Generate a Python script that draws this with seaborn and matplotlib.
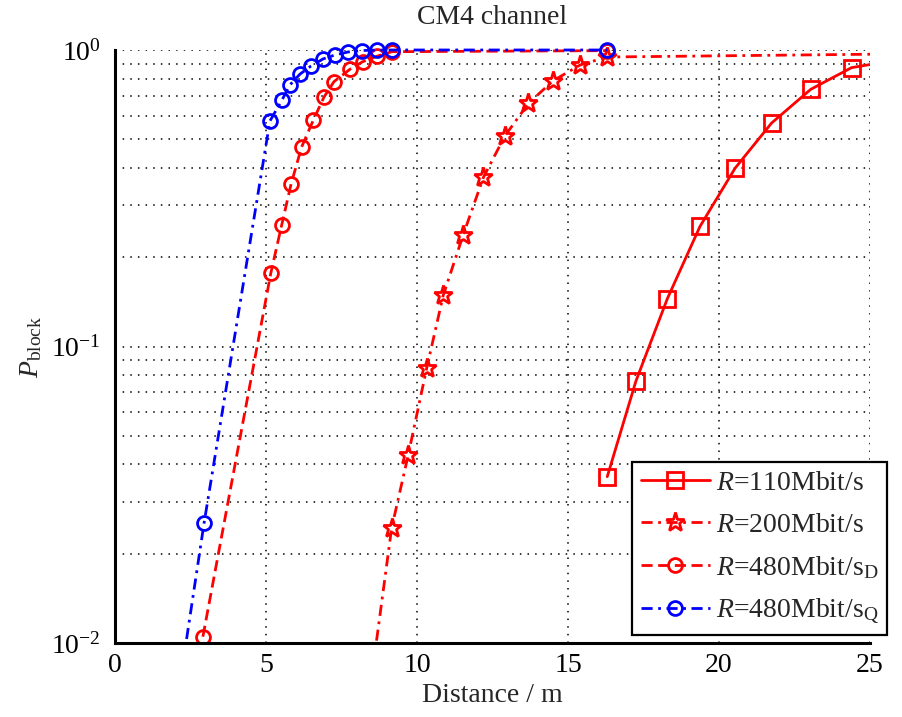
import matplotlib
matplotlib.use("Agg")
import matplotlib.pyplot as plt
import seaborn as sns
from matplotlib.transforms import Bbox, TransformedBbox

# Blocking probability versus distance, CM4 channel
d_110 = [16.30, 17.25, 18.29, 19.37, 20.53, 21.74, 23.04, 24.39, 25.60]
p_110 = [0.0364, 0.0765, 0.145, 0.254, 0.399, 0.567, 0.737, 0.872, 0.915]

d_200 = [8.55, 9.16, 9.71, 10.32, 10.87, 11.53, 12.20, 12.91, 13.69, 14.51, 15.40, 16.29, 26.0]
p_200 = [0.0084, 0.0244, 0.0431, 0.0844, 0.149, 0.238, 0.372, 0.513, 0.661, 0.788, 0.890, 0.947, 0.970]

d_480d = [2.91, 5.16, 5.52, 5.83, 6.18, 6.57, 6.92, 7.25, 7.78, 8.20, 8.69, 9.17, 16.30]
p_480d = [0.0105, 0.177, 0.257, 0.353, 0.471, 0.581, 0.694, 0.782, 0.861, 0.913, 0.954, 0.987, 0.995]

d_480q = [2.00, 2.95, 5.13, 5.53, 5.79, 6.13, 6.49, 6.89, 7.28, 7.72, 8.18, 8.68, 9.17, 16.30]
p_480q = [0.0058, 0.0254, 0.576, 0.678, 0.762, 0.830, 0.883, 0.933, 0.962, 0.985, 0.996, 0.999, 1.0, 1.0]

labels = [r"$R$=110Mbit/s", r"$R$=200Mbit/s",
          r"$R$=480Mbit/s$_\mathrm{D}$", r"$R$=480Mbit/s$_\mathrm{Q}$"]
x_ticks = [0, 5, 10, 15, 20, 25]

sns.set_style("white")
plt.rcParams["font.family"] = ["Liberation Serif", "DejaVu Serif"]
plt.rcParams["mathtext.fontset"] = "custom"
plt.rcParams["mathtext.rm"] = "Liberation Serif"
plt.rcParams["mathtext.it"] = "Liberation Serif:italic"
plt.rcParams["mathtext.bf"] = "Liberation Serif:bold"

FS = 20
fig = plt.figure(figsize=(9.03, 7.17), dpi=100)
ax = fig.add_axes([115 / 903, 1 - 643 / 717, 755 / 903, 593 / 717])
ax.set_yscale("log")

styles = [
    (d_110, p_110, "#ff0000", "-", "s", 11),
    (d_200, p_200, "#ff0000", (0, (4, 2, 1, 2)), "*", 14),
    (d_480d, p_480d, "#ff0000", (0, (4, 2)), "o", 10),
    (d_480q, p_480q, "#0000ff", (0, (4, 2, 1, 2)), "o", 10),
]

for (d, p, c, ls, mk, ms), lab in zip(styles, labels):
    sns.lineplot(x=d, y=p, ax=ax, color=c, linestyle=ls, linewidth=2.0,
                 marker=mk, markersize=ms, markerfacecolor="none",
                 markeredgecolor=c, markeredgewidth=2.0,
                 estimator=None, sort=False, label=lab, legend=False)

ax.set_xlim(0, 25)
ax.set_ylim(1e-2, 1)
ax.set_xticks(x_ticks)

# let markers sitting on the top edge show fully, while the lines stay clipped
clip = TransformedBbox(Bbox([[0.0, 0.0], [1.0, 1.03]]), ax.transAxes)
for line in ax.get_lines():
    line.set_clip_box(clip)

ax.grid(True, which="major", axis="both", color="k",
        linestyle=(0, (1, 4)), linewidth=1.1)
ax.grid(True, which="minor", axis="y", color="k",
        linestyle=(0, (1, 4)), linewidth=1.1)
ax.set_axisbelow(True)

for s in ["top", "right"]:
    ax.spines[s].set_visible(False)
for s in ["left", "bottom"]:
    ax.spines[s].set_linewidth(2.2)
    ax.spines[s].set_color("k")

ax.tick_params(which="major", direction="in", length=6, width=2,
               labelsize=FS, colors="k", pad=10)
ax.tick_params(axis="y", which="minor", direction="in", length=5, width=2,
               colors="k")
ax.tick_params(axis="x", which="major", pad=7)

ax.set_title("CM4 channel", fontsize=FS, pad=19)
ax.set_xlabel("Distance / m", fontsize=FS, labelpad=4)
ax.set_ylabel(r"$P_\mathrm{block}$", fontsize=FS, labelpad=5)

leg = ax.legend(loc="lower left", bbox_to_anchor=(0.685, 0.013),
                fontsize=FS, frameon=True, fancybox=False, framealpha=1,
                edgecolor="k", handlelength=2.5, labelspacing=0.58,
                borderaxespad=0, borderpad=0.3, handletextpad=0.2)
leg.get_frame().set_linewidth(1.6)

fig.savefig("out.png", dpi=100)
